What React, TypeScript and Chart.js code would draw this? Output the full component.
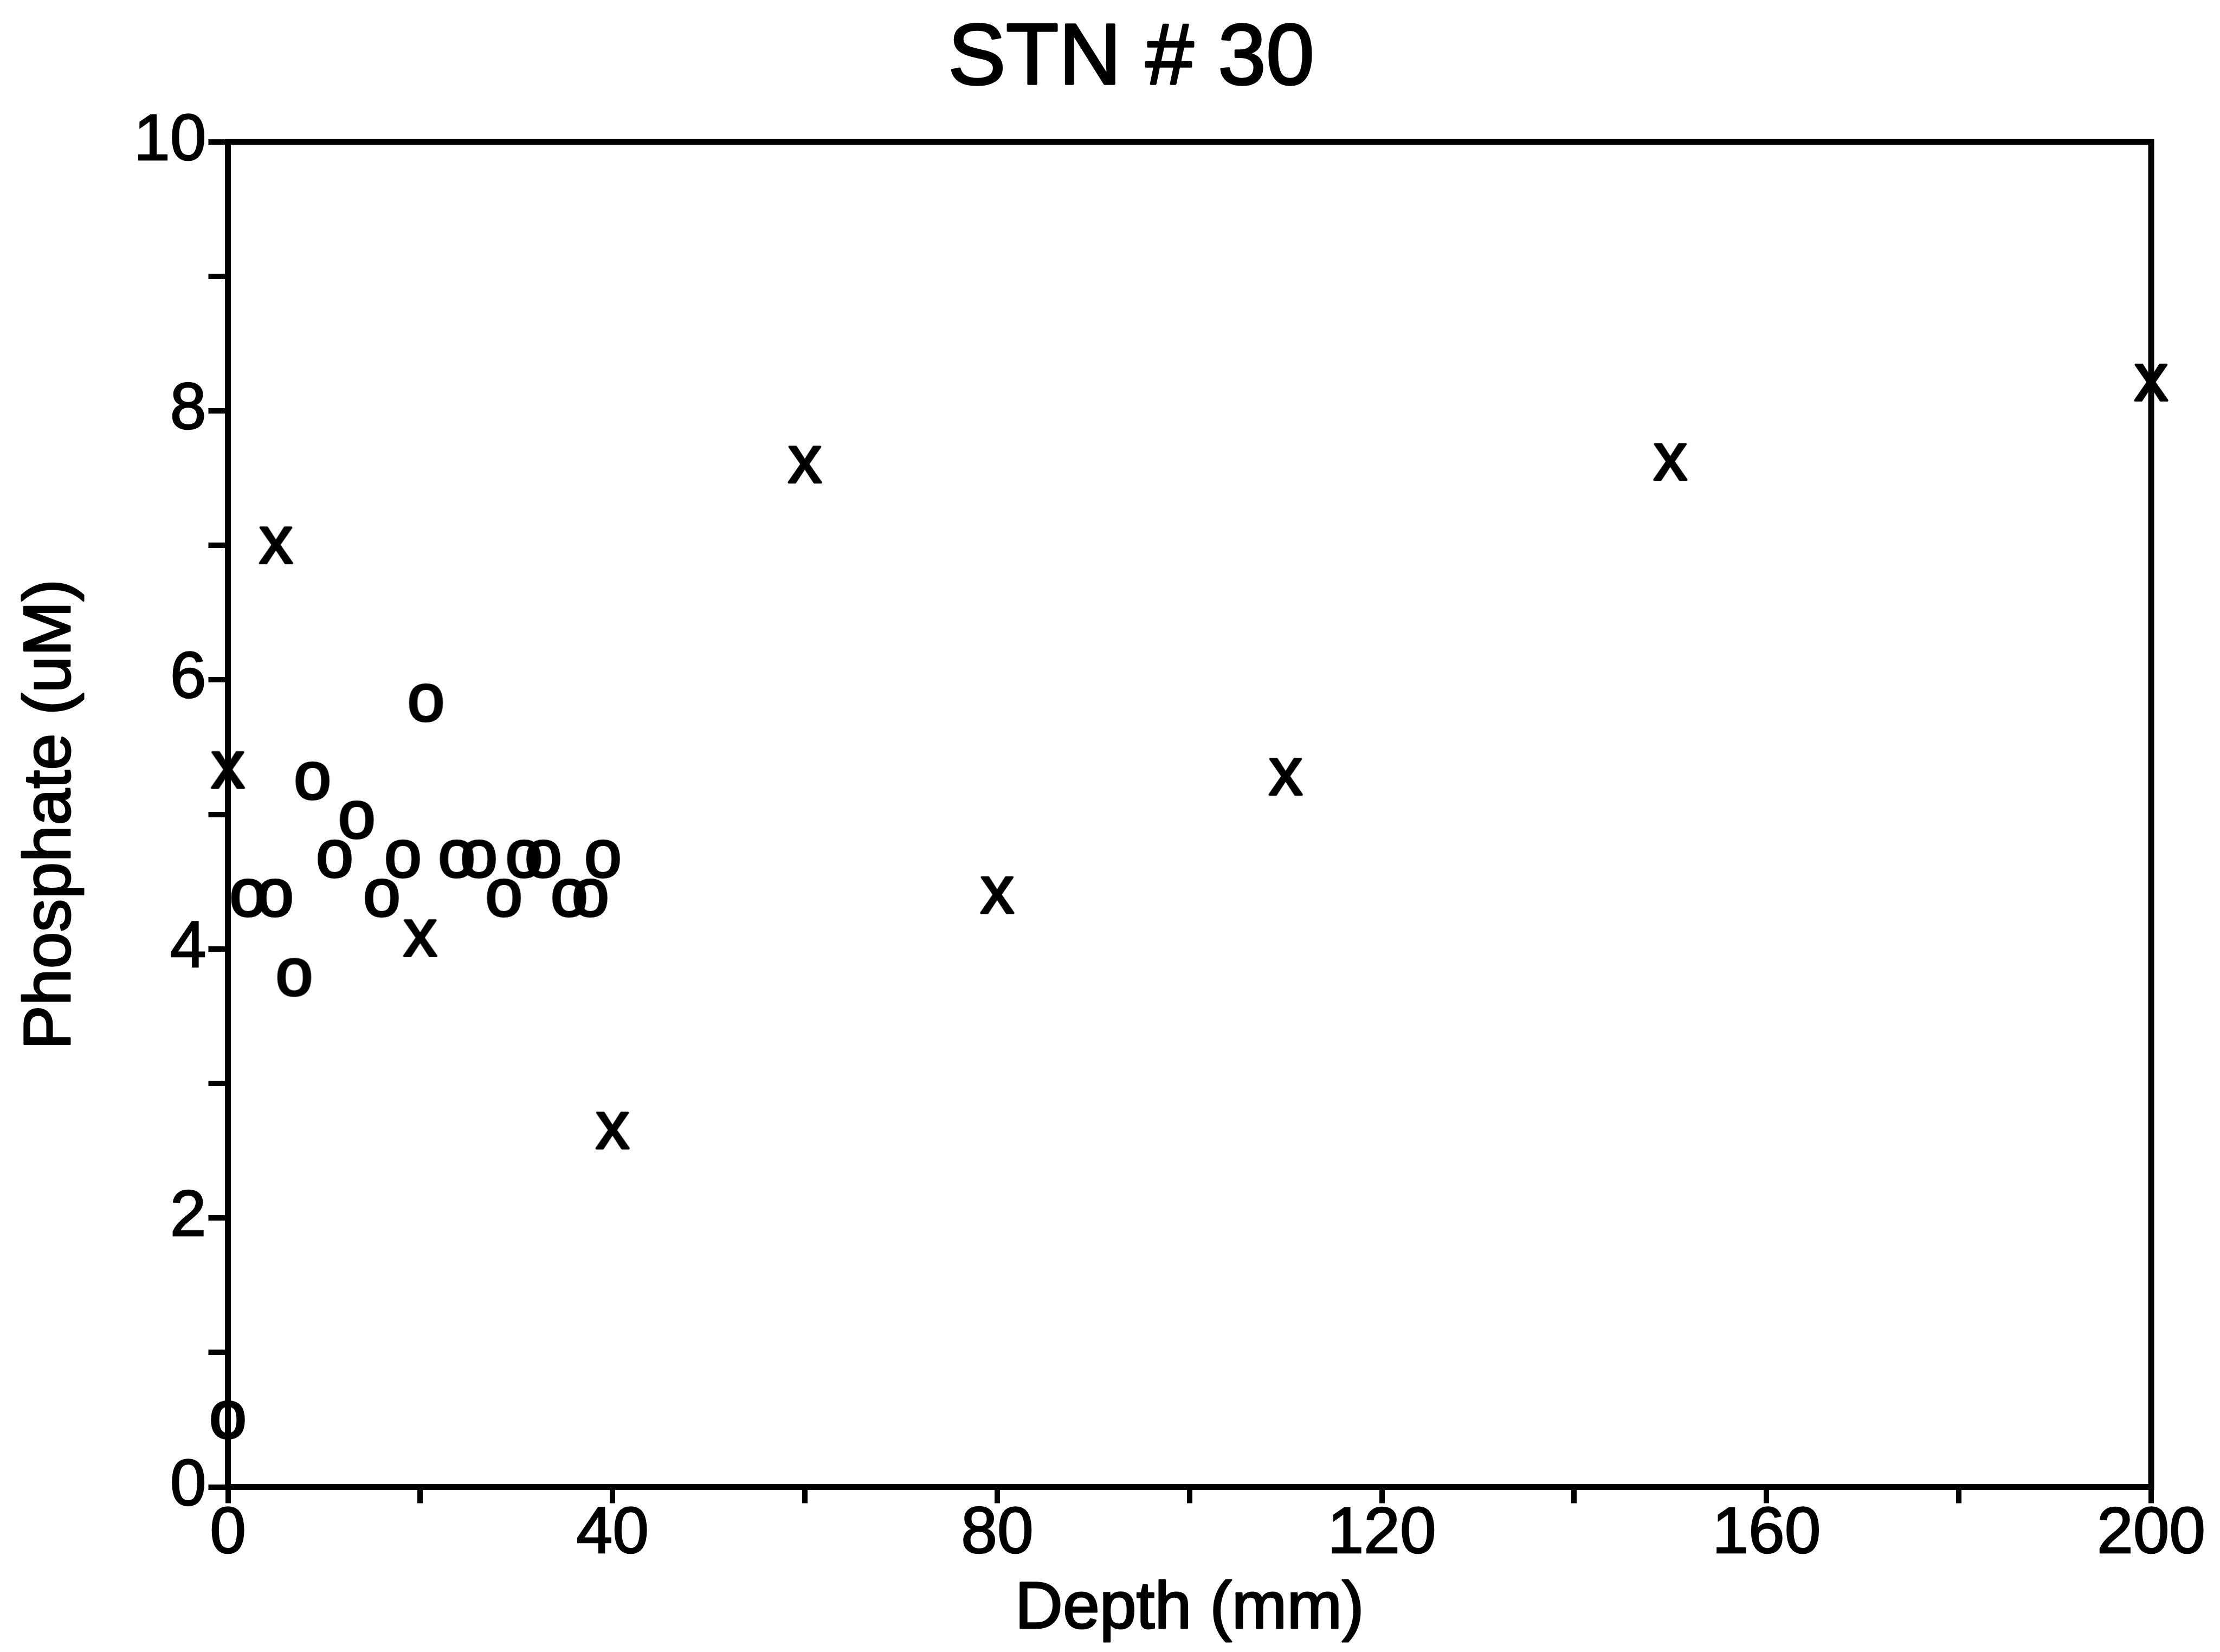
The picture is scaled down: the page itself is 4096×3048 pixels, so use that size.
import React, { useEffect, useRef } from 'react';
import { Chart, registerables } from 'chart.js';

Chart.register(...registerables);

// ---- data ----
const chartTitle = 'STN # 30';
const xAxisTitle = 'Depth (mm)';
const yAxisTitle = 'Phosphate (uM)';

// series drawn with "x" glyph
const xSeriesDepth = [0, 5, 20, 40, 60, 80, 110, 150, 200];
const xSeriesPhosphate = [5.33, 7.0, 4.08, 2.65, 7.6, 4.4, 5.28, 7.62, 8.21];

// series drawn with "o" glyph
const oSeriesDepth = [0, 2.1, 4.9, 6.9, 8.8, 11.1, 13.4, 16.0, 18.2, 20.6, 23.8, 26.1, 28.7, 30.8, 32.8, 35.5, 37.7, 39.0];
const oSeriesPhosphate = [0.5, 4.38, 4.38, 3.79, 5.25, 4.67, 4.96, 4.38, 4.67, 5.83, 4.67, 4.67, 4.38, 4.67, 4.67, 4.38, 4.38, 4.67];

const xTickLabels = ['0', '40', '80', '120', '160', '200'];
const yTickLabels = ['0', '2', '4', '6', '8', '10'];

const FONT = '"Liberation Sans", Arial, Helvetica, sans-serif';

function makeGlyph(ch: string, size: number, stroke: number): HTMLCanvasElement {
  const c = document.createElement('canvas');
  let ctx = c.getContext('2d')!;
  ctx.font = `${size}px ${FONT}`;
  const m = ctx.measureText(ch);
  const pad = 6;
  const w = Math.ceil(m.actualBoundingBoxLeft + m.actualBoundingBoxRight) + pad * 2;
  const h = Math.ceil(m.actualBoundingBoxAscent + m.actualBoundingBoxDescent) + pad * 2;
  c.width = w;
  c.height = h;
  ctx = c.getContext('2d')!;
  ctx.font = `${size}px ${FONT}`;
  ctx.fillStyle = '#000';
  ctx.strokeStyle = '#000';
  ctx.lineWidth = stroke;
  ctx.lineJoin = 'round';
  ctx.textBaseline = 'alphabetic';
  ctx.textAlign = 'left';
  const x = pad + m.actualBoundingBoxLeft;
  const y = pad + m.actualBoundingBoxAscent;
  ctx.fillText(ch, x, y);
  ctx.strokeText(ch, x, y);
  return c;
}

function heavyText(ctx: CanvasRenderingContext2D, text: string, x: number, y: number, stroke: number) {
  ctx.fillText(text, x, y);
  ctx.lineWidth = stroke;
  ctx.lineJoin = 'round';
  ctx.strokeText(text, x, y);
}

const framePlugin = {
  id: 'frameAndTitles',
  beforeDatasetsDraw(chart: any) {
    const { ctx, chartArea } = chart;
    ctx.save();
    ctx.strokeStyle = '#000';
    ctx.lineWidth = 11;
    ctx.strokeRect(chartArea.left, chartArea.top, chartArea.right - chartArea.left, chartArea.bottom - chartArea.top);
    ctx.restore();
  },
  afterDraw(chart: any) {
    const { ctx, chartArea } = chart;
    ctx.save();
    ctx.fillStyle = '#000';
    ctx.strokeStyle = '#000';
    // main title
    ctx.font = `160px ${FONT}`;
    ctx.textAlign = 'center';
    ctx.textBaseline = 'alphabetic';
    heavyText(ctx, chartTitle, 2087, 155, 3.5);
    // x axis title
    ctx.font = `122px ${FONT}`;
    ctx.textBaseline = 'middle';
    heavyText(ctx, xAxisTitle, (chartArea.left + chartArea.right) / 2, 2970, 3);
    // y axis title
    ctx.translate(95, (chartArea.top + chartArea.bottom) / 2);
    ctx.rotate(-Math.PI / 2);
    heavyText(ctx, yAxisTitle, 0, 0, 3);
    ctx.restore();
  },
};

export default function App() {
  const ref = useRef<HTMLCanvasElement | null>(null);

  useEffect(() => {
    if (!ref.current) return;
    const xGlyph = makeGlyph('x', 124, 4);
    const oGlyph = makeGlyph('o', 124, 4);

    const chart = new Chart(ref.current, {
      type: 'scatter',
      data: {
        datasets: [
          {
            label: 'x',
            data: xSeriesDepth.map((d, i) => ({ x: d, y: xSeriesPhosphate[i] })),
            pointStyle: xGlyph as any,
            pointRadius: 10,
            showLine: false,
            clip: false as any,
          },
          {
            label: 'o',
            data: oSeriesDepth.map((d, i) => ({ x: d, y: oSeriesPhosphate[i] })),
            pointStyle: oGlyph as any,
            pointRadius: 10,
            showLine: false,
            clip: false as any,
          },
        ],
      },
      options: {
        responsive: false,
        animation: false,
        devicePixelRatio: 1,
        events: [],
        layout: { padding: { left: 0, right: 127, top: 261.5, bottom: 0 } },
        plugins: {
          legend: { display: false },
          tooltip: { enabled: false },
          title: { display: false },
        },
        scales: {
          x: {
            type: 'linear',
            position: 'bottom',
            min: 0,
            max: 200,
            border: { display: false },
            grid: { display: true, drawOnChartArea: false, drawTicks: true, tickLength: 30, lineWidth: 10, color: '#000' },
            ticks: {
              stepSize: 20,
              autoSkip: false,
              maxRotation: 0,
              padding: -2,
              color: '#000',
              textStrokeColor: '#000',
              textStrokeWidth: 2.5,
              font: { family: FONT, size: 120, lineHeight: 1 },
              callback: (v: any) => (xTickLabels.includes(String(v)) ? String(v) : ''),
            },
            title: { display: false },
            afterFit: (s: any) => {
              s.height = 304.5;
            },
          },
          y: {
            type: 'linear',
            position: 'left',
            min: 0,
            max: 10,
            border: { display: false },
            grid: { display: true, drawOnChartArea: false, drawTicks: true, tickLength: 36, lineWidth: 10, color: '#000' },
            ticks: {
              stepSize: 1,
              autoSkip: false,
              padding: 4,
              color: '#000',
              textStrokeColor: '#000',
              textStrokeWidth: 2.5,
              font: { family: FONT, size: 120, lineHeight: 1 },
              callback: (v: any) => (yTickLabels.includes(String(v)) ? String(v) : ''),
            },
            title: { display: false },
            afterFit: (s: any) => {
              s.width = 420.5;
            },
          },
        },
      } as any,
      plugins: [framePlugin],
    });
    return () => chart.destroy();
  }, []);

  return (
    <div style={{ position: 'fixed', left: 0, top: 0, width: 4096, height: 3048, background: '#fff' }}>
      <canvas ref={ref} width={4096} height={3048} style={{ width: 4096, height: 3048, display: 'block' }} />
    </div>
  );
}
